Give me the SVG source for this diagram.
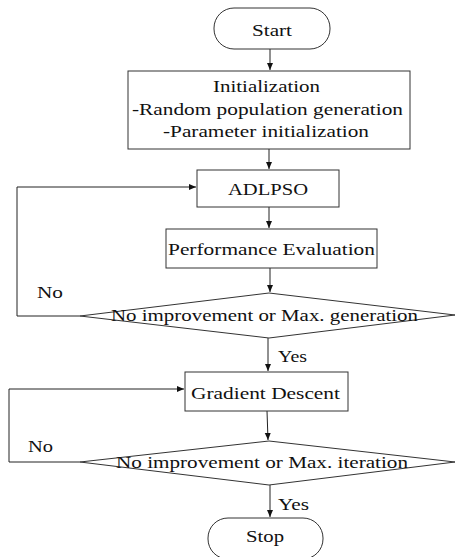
<svg xmlns="http://www.w3.org/2000/svg" width="457" height="557" viewBox="0 0 457 557">
<defs>
<marker id="ah" markerWidth="8" markerHeight="8" refX="7" refY="4" orient="auto" markerUnits="userSpaceOnUse">
<path d="M0,1 L7,4 L0,7 Z" fill="#111"/>
</marker>
<style>
.s{fill:#fff;stroke:#333;stroke-width:1}
.c{fill:none;stroke:#222;stroke-width:1}
</style>
</defs>
<rect width="457" height="557" fill="#fff"/>
<g id="connectors">
<line class="c" x1="270" y1="49" x2="270" y2="70" marker-end="url(#ah)"/>
<line class="c" x1="269" y1="149" x2="269" y2="169" marker-end="url(#ah)"/>
<line class="c" x1="269" y1="207" x2="269" y2="228" marker-end="url(#ah)"/>
<line class="c" x1="270" y1="268" x2="270" y2="292" marker-end="url(#ah)"/>
<line class="c" x1="268" y1="338" x2="268" y2="371" marker-end="url(#ah)"/>
<line class="c" x1="267" y1="411" x2="268" y2="440" marker-end="url(#ah)"/>
<line class="c" x1="270" y1="485" x2="270" y2="517" marker-end="url(#ah)"/>
<polyline class="c" points="80,316 17,316 17,187 196,187" marker-end="url(#ah)"/>
<polyline class="c" points="80,462 9,462 9,389 184,389" marker-end="url(#ah)"/>
<text font-family="Liberation Serif" font-size="17" fill="#111" x="37" y="298" textLength="26" lengthAdjust="spacingAndGlyphs">No</text>
<text font-family="Liberation Serif" font-size="17" fill="#111" x="28" y="452" textLength="25" lengthAdjust="spacingAndGlyphs">No</text>
<text font-family="Liberation Serif" font-size="17" fill="#111" x="278" y="362" textLength="29" lengthAdjust="spacingAndGlyphs">Yes</text>
<text font-family="Liberation Serif" font-size="17" fill="#111" x="278" y="510" textLength="31" lengthAdjust="spacingAndGlyphs">Yes</text>
</g>
<g id="start">
<rect class="s" x="214" y="8" width="116" height="41" rx="20" ry="20"/>
<text font-family="Liberation Serif" font-size="17" fill="#111" x="252" y="36" textLength="40" lengthAdjust="spacingAndGlyphs">Start</text>
</g>
<g id="init">
<rect class="s" x="128" y="71" width="282" height="78"/>
<text font-family="Liberation Serif" font-size="17" fill="#111" x="213" y="92" textLength="107" lengthAdjust="spacingAndGlyphs">Initialization</text>
<text font-family="Liberation Serif" font-size="17" fill="#111" x="132" y="115" textLength="271" lengthAdjust="spacingAndGlyphs">-Random population generation</text>
<text font-family="Liberation Serif" font-size="17" fill="#111" x="163" y="137" textLength="206" lengthAdjust="spacingAndGlyphs">-Parameter initialization</text>
</g>
<g id="adlpso">
<rect class="s" x="197" y="170" width="142" height="37"/>
<text font-family="Liberation Serif" font-size="17" fill="#111" x="228" y="195" textLength="80" lengthAdjust="spacingAndGlyphs">ADLPSO</text>
</g>
<g id="perf">
<rect class="s" x="166" y="229" width="211" height="39"/>
<text font-family="Liberation Serif" font-size="17" fill="#111" x="168" y="255" textLength="207" lengthAdjust="spacingAndGlyphs">Performance Evaluation</text>
</g>
<g id="dec1">
<polygon class="s" points="269,293 455,315 269,338 80,316"/>
<text font-family="Liberation Serif" font-size="17" fill="#111" x="111" y="321" textLength="307" lengthAdjust="spacingAndGlyphs">No improvement or Max. generation</text>
</g>
<g id="gd">
<rect class="s" x="185" y="372" width="163" height="39"/>
<text font-family="Liberation Serif" font-size="17" fill="#111" x="191" y="399" textLength="149" lengthAdjust="spacingAndGlyphs">Gradient Descent</text>
</g>
<g id="dec2">
<polygon class="s" points="269,441 455,462 269,485 80,462"/>
<text font-family="Liberation Serif" font-size="17" fill="#111" x="116" y="468" textLength="292" lengthAdjust="spacingAndGlyphs">No improvement or Max. iteration</text>
</g>
<g id="stop">
<rect class="s" x="208" y="518" width="115" height="41" rx="20" ry="20"/>
<text font-family="Liberation Serif" font-size="17" fill="#111" x="246" y="542" textLength="38" lengthAdjust="spacingAndGlyphs">Stop</text>
</g>
</svg>
